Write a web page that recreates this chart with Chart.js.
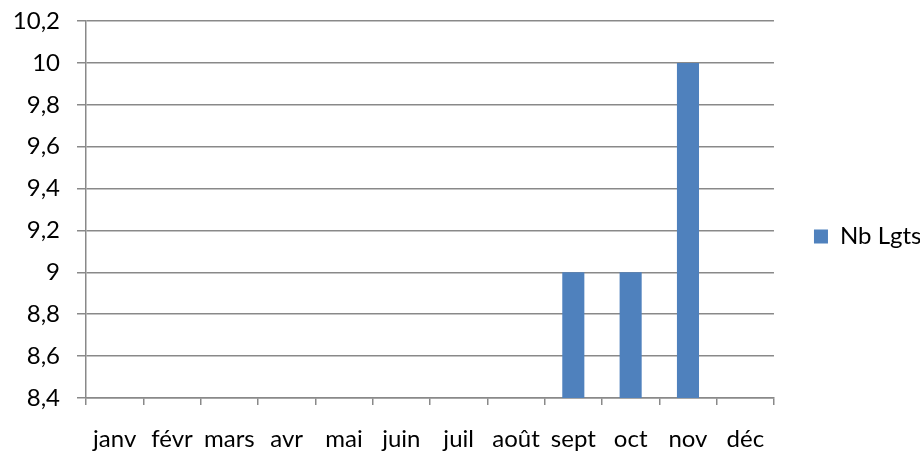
<!DOCTYPE html>
<html>
<head>
<meta charset="utf-8">
<script src="https://cdn.jsdelivr.net/npm/chart.js@4/dist/chart.umd.min.js"></script>
<style>
  html, body { margin: 0; padding: 0; background: #fff; }
  #wrap { width: 920px; height: 453px; position: relative; }
</style>
</head>
<body>
<div id="wrap"><canvas id="c"></canvas></div>
<script>
const months = ['janv', 'févr', 'mars', 'avr', 'mai', 'juin', 'juil', 'août', 'sept', 'oct', 'nov', 'déc'];
const nbLgts = [null, null, null, null, null, null, null, null, 9, 9, 10, null];
const seriesName = 'Nb Lgts';
const yMin = 8.4, yMax = 10.2, yStep = 0.2;

const FONT = 'Lato, "Open Sans", sans-serif';
const AXIS = '#898989';

// place the legend where the reference draws it
const legendShift = {
  id: 'legendShift',
  afterLayout(chart) {
    const lg = chart.legend;
    if (!lg) return;
    const dx = 30, dy = 10;
    lg.left += dx; lg.right += dx;
    lg.top += dy; lg.bottom += dy;
  }
};

new Chart(document.getElementById('c'), {
  type: 'bar',
  data: {
    labels: months,
    datasets: [{
      label: seriesName,
      data: nbLgts,
      backgroundColor: '#4F81BD',
      borderWidth: 0,
      barPercentage: 0.385,
      categoryPercentage: 1
    }]
  },
  plugins: [legendShift],
  options: {
    responsive: true,
    maintainAspectRatio: false,
    animation: false,
    layout: { padding: { top: 0, left: 0, right: 18.5, bottom: 0 } },
    plugins: {
      legend: {
        position: 'right',
        labels: {
          font: { family: FONT, size: 24 },
          color: '#000',
          boxWidth: 14,
          boxHeight: 14,
          padding: 10
        }
      },
      tooltip: { enabled: false }
    },
    scales: {
      x: {
        offset: true,
        afterFit(scale) { scale.height = 55; },
        grid: {
          offset: true,
          drawOnChartArea: false,
          drawTicks: true,
          tickLength: 7,
          color: AXIS,
          lineWidth: 1.5
        },
        border: { color: AXIS, width: 1.5 },
        ticks: {
          font: { family: FONT, size: 24 },
          color: '#000',
          padding: 20,
          maxRotation: 0,
          autoSkip: false
        }
      },
      y: {
        min: yMin,
        max: yMax,
        afterFit(scale) { scale.width = 86; scale.paddingTop = 21; scale.paddingBottom = 0; },
        grid: {
          color: AXIS,
          lineWidth: 1.5,
          tickLength: 9
        },
        border: { color: AXIS, width: 1.5 },
        ticks: {
          stepSize: yStep,
          font: { family: FONT, size: 24 },
          color: '#000',
          padding: 17,
          callback: v => (Math.round(v * 10) / 10).toString().replace('.', ',')
        }
      }
    }
  }
});
</script>
</body>
</html>
